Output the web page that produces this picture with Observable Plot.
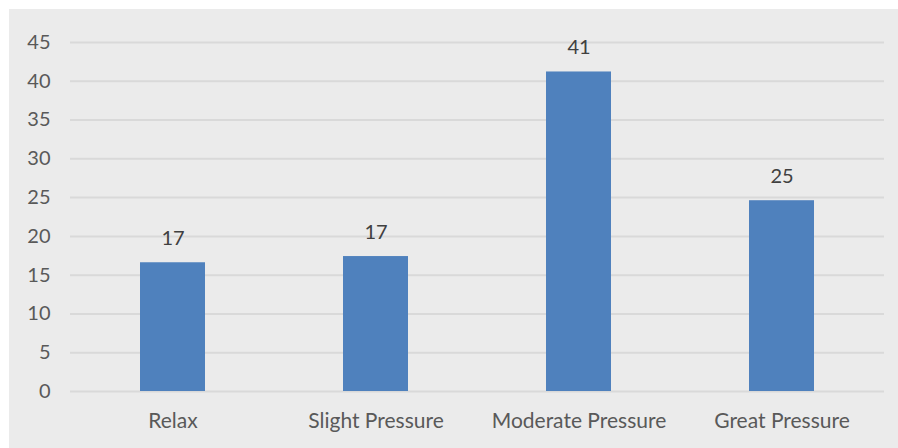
<!DOCTYPE html>
<html>
<head>
<meta charset="utf-8">
<script src="https://cdn.jsdelivr.net/npm/d3@7"></script>
<script src="https://cdn.jsdelivr.net/npm/@observablehq/plot@0.6"></script>
<style>
  html, body { margin: 0; padding: 0; background: #ffffff; }
  #frame { position: relative; width: 898px; height: 448px; overflow: hidden; }
  #panel { position: absolute; left: 9px; top: 9px; width: 889px; height: 439px; background: #ebebeb; }
  #chart { position: absolute; left: 0; top: 0; }
  #chart svg { background: transparent; }
</style>
</head>
<body>
<div id="frame">
  <div id="panel"></div>
  <div id="chart"></div>
</div>
<script>
// Stress levels and their shares
const categories = ["Relax", "Slight Pressure", "Moderate Pressure", "Great Pressure"];
const values = [16.6, 17.4, 41.2, 24.6];
const yTicks = [0, 5, 10, 15, 20, 25, 30, 35, 40, 45];

const rows = categories.map((c, i) => ({category: c, value: values[i]}));

const font = "Lato, 'Open Sans', sans-serif";

const chart = Plot.plot({
  width: 898,
  height: 448,
  marginLeft: 70,
  marginRight: 14,
  marginTop: 42,
  marginBottom: 57,
  style: {fontFamily: font, fontSize: "20px", background: "transparent", overflow: "visible"},
  x: {domain: categories, paddingInner: 0.68, paddingOuter: 0.34, label: null},
  y: {domain: [0, 45], ticks: yTicks, label: null},
  marks: [
    Plot.ruleY(yTicks, {stroke: "#d9d9d9", strokeWidth: 2, strokeOpacity: 1}),
    Plot.barY(rows, {x: "category", y: "value", fill: "#4f81bd"}),
    Plot.text(rows, {
      x: "category", y: "value",
      text: d => String(Math.round(d.value)),
      dy: -24, fill: "#404040", fontSize: 20
    }),
    Plot.axisY({ticks: yTicks, tickSize: 0, tickPadding: 20, color: "#595959", fontSize: 20, label: null}),
    Plot.axisX({tickSize: 0, tickPadding: 22, color: "#595959", fontSize: 21, label: null})
  ]
});

document.getElementById("chart").appendChild(chart);
</script>
</body>
</html>
